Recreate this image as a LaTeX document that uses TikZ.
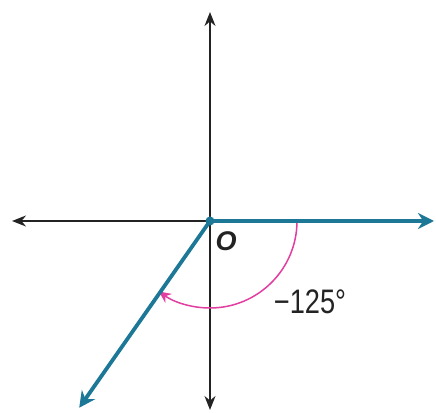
\documentclass[tikz,border=0pt]{standalone}
\usepackage{fontspec}
\setmainfont{Liberation Sans}
\usetikzlibrary{arrows.meta,calc}
\definecolor{teal1}{RGB}{28,120,150}
\definecolor{pink1}{RGB}{226,62,160}
\definecolor{axisgray}{RGB}{35,35,35}
\tikzset{
  axis/.style={draw=axisgray, line width=1.6pt, -{Stealth[length=14pt,width=11pt]}},
  ray/.style={draw=teal1, line width=3.8pt, -{Stealth[length=16pt,width=16pt]}},
  anglearc/.style={draw=pink1, line width=1.5pt, -{Stealth[length=12pt,width=11pt]}},
  lbl/.style={inner sep=0pt, text=axisgray}
}
\begin{document}
\begin{tikzpicture}[x=1pt,y=1pt]
\useasboundingbox (0,0) rectangle (436,412);
\coordinate (O) at (210,191);
\coordinate (T) at (210,400);
\coordinate (B) at (210,2);
\coordinate (L) at (12,191);
\coordinate (R) at (434,191);
\coordinate (E) at ($(O)+(-125:228)$);
\draw[axis] (O) -- (T);
\draw[axis] (O) -- (B);
\draw[axis] (O) -- (L);
\draw[anglearc] ($(O)+(0:87)$) arc[start angle=0, end angle=-126, radius=87];
\draw[ray] (O) -- (R);
\draw[ray] (O) -- (E);
\fill[teal1] (O) circle (4.5);
\node[lbl, font=\fontsize{27}{30}\selectfont\bfseries\itshape] (olabel) at (226,171) {O};
\node[lbl, font=\fontsize{34}{38}\selectfont, xscale=0.8] (anglelabel) at (310,110) {−125°};
\end{tikzpicture}
\end{document}
